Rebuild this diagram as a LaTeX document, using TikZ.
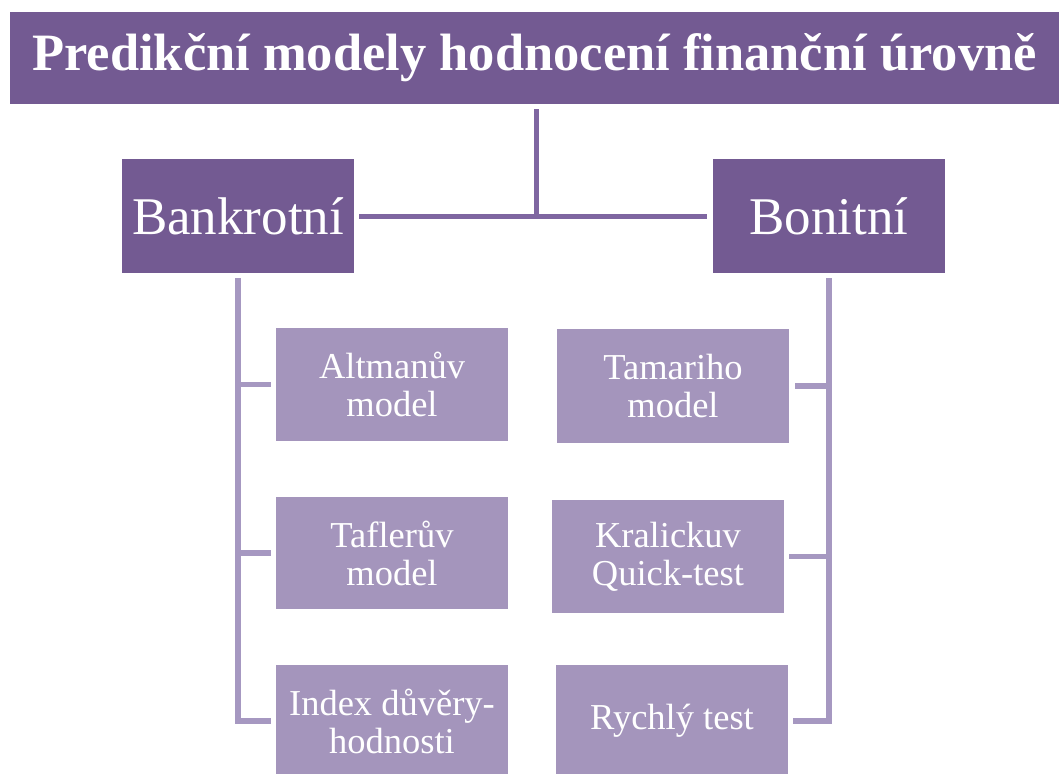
\documentclass[tikz,border=0pt]{standalone}
\usepackage{fontspec}
\setmainfont{Liberation Serif}
\definecolor{darkpur}{HTML}{735A92}
\definecolor{lightpur}{HTML}{A495BC}
\definecolor{topline}{HTML}{7F66A1}
\definecolor{subline}{HTML}{A698C1}
\begin{document}
\begin{tikzpicture}[x=1pt,y=-1pt,
  titlebox/.style={rectangle, fill=darkpur, text=white, inner sep=0pt, align=center, font=\fontsize{52.5}{60}\selectfont\bfseries},
  catbox/.style={rectangle, fill=darkpur, text=white, inner sep=0pt, minimum width=232pt, minimum height=114pt, align=center, font=\fontsize{53}{60}\selectfont},
  leafbox/.style={rectangle, fill=lightpur, text=white, inner sep=0pt, minimum width=232pt, align=center, font=\fontsize{36.5}{38}\selectfont},
  topconn/.style={draw=topline, line width=5pt},
  subconn/.style={draw=subline, line width=5.5pt, line join=miter}
]
\useasboundingbox (0,0) rectangle (1059,773);
\node[titlebox, minimum width=1049pt, minimum height=92pt] (title) at (534.5,58) {\raisebox{-1pt}{Predikční modely hodnocení finanční úrovně}};
\node[catbox] (bank) at (238,216) {Bankrotní};
\node[catbox] (bon) at (829,216) {Bonitní};
\coordinate (j) at (536,216);
\node[leafbox, minimum height=113pt] (alt) at (392,384.5) {Altmanův\\model};
\node[leafbox, minimum height=112pt] (taf) at (392,553) {Taflerův\\model};
\node[leafbox, minimum height=112pt] (idx) at (392,721) {Index důvěry-\\hodnosti};
\node[leafbox, minimum height=114pt] (tam) at (673,386) {Tamariho\\model};
\node[leafbox, minimum height=113pt] (kra) at (668,556.5) {Kralickuv\\Quick-test};
\node[leafbox, minimum height=112pt] (ry) at (672,721) {\raisebox{-3pt}{Rychlý test}};
% top connectors
\draw[topconn, shorten <=5pt] (title.south -| j) -- (j);
\draw[topconn, shorten <=5pt, shorten >=6pt] (bank.east) -- (bon.west);
% left tree
\draw[subconn, shorten <=5pt, shorten >=5pt] (bank.south) |- (idx.west);
\draw[subconn, shorten >=5pt] (bank.south |- alt.west) -- (alt.west);
\draw[subconn, shorten >=5pt] (bank.south |- taf.west) -- (taf.west);
% right tree
\draw[subconn, shorten <=5pt, shorten >=5pt] (bon.south) |- (ry.east);
\draw[subconn, shorten >=6pt] (bon.south |- tam.east) -- (tam.east);
\draw[subconn, shorten >=5pt] (bon.south |- kra.east) -- (kra.east);
\end{tikzpicture}
\end{document}
